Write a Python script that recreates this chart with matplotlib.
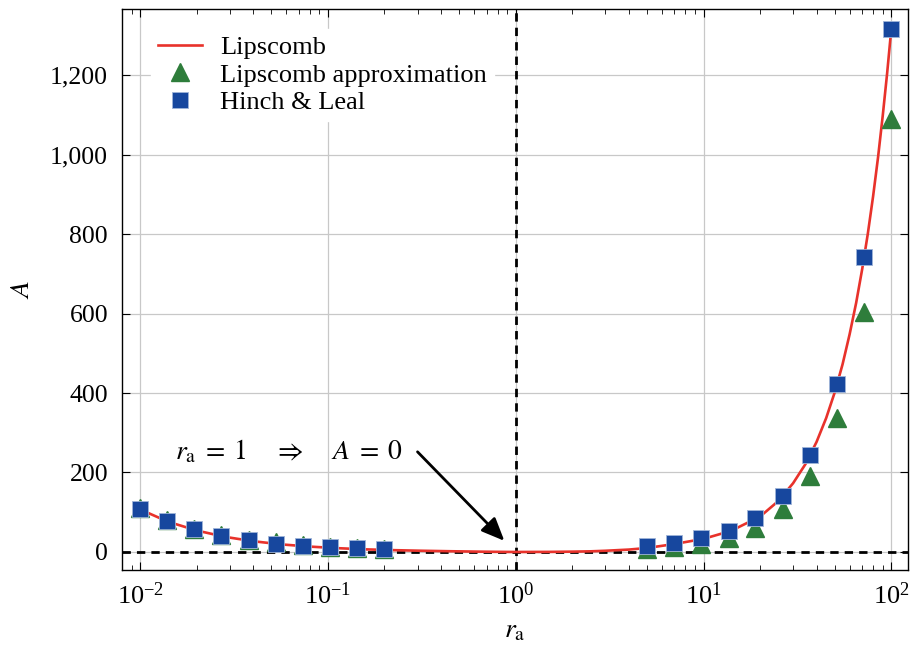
import numpy as np
import matplotlib
matplotlib.use("Agg")
import matplotlib.pyplot as plt
from matplotlib.ticker import FuncFormatter, LogLocator, NullFormatter

plt.rcParams['font.family'] = ['Liberation Serif', 'DejaVu Serif']
plt.rcParams['mathtext.fontset'] = 'stix'

# Lipscomb curve
curve_r = [0.01, 0.0141, 0.02, 0.0283, 0.04, 0.0566, 0.08, 0.113, 0.16, 0.226,
           0.32, 0.45, 0.64, 0.9, 1.0, 1.27, 1.5, 2.0, 2.5, 3.0, 4.0, 5.0, 7.0,
           10.0, 14.0, 20.0, 25.0, 30.0, 35.0, 40.0, 45.0, 50.0, 55.0, 60.0,
           65.0, 70.0, 75.0, 80.0, 85.0, 90.0, 95.0, 100.0]
curve_A = [107, 76, 54, 38, 27, 19, 13.5, 9.5, 6.5, 4.5,
           3.0, 1.8, 0.8, 0.1, 0.0, 0.1, 0.2, 0.8, 1.6, 3.0, 6.0, 10, 20,
           33, 53, 89, 128, 173, 222, 277, 337, 402, 472, 548,
           627, 712, 801, 895, 993, 1097, 1204, 1316]

# sample points
r_small = [0.01, 0.0139, 0.0194, 0.0271, 0.0378, 0.0527, 0.0734, 0.102, 0.143, 0.2]
r_large = [5.0, 6.98, 9.74, 13.6, 18.9, 26.4, 36.9, 51.4, 71.7, 100.0]

approx_small = [110, 80, 59, 42, 31, 24, 17, 13, 10, 8]
approx_large = [8, 12.5, 21, 35, 61, 107, 190, 337, 605, 1090]

hl_small = [107, 77, 57, 39, 29, 21, 15, 12, 9, 6.5]
hl_large = [15.6, 23, 35, 53, 85, 142, 244, 423, 742, 1316]

ann_text = r'$r_{\mathrm{a}}\;=\;1 \quad\; \Rightarrow \quad\; A\;=\;0$'

fig = plt.figure(figsize=(9.10, 6.52), dpi=100)
ax = fig.add_axes([0.134, 0.126, 0.864, 0.860])

ax.grid(True, which='major', color='#c8c8c8', linewidth=0.9, zorder=0)
ax.axvline(1.0, color='black', linestyle=(0, (3, 2.2)), linewidth=2.0, zorder=2)
ax.axhline(0.0, color='black', linestyle=(0, (3, 2.2)), linewidth=2.0, zorder=2)

ax.plot(curve_r, curve_A, color='#e8322b', linewidth=1.9, zorder=3, label='Lipscomb')
ax.plot(r_small + r_large, approx_small + approx_large, linestyle='none', marker='^',
        markersize=13, color='#2e7d3b', markeredgecolor='#2e7d3b', zorder=4,
        label='Lipscomb approximation')
ax.plot(r_small + r_large, hl_small + hl_large, linestyle='none', marker='s',
        markersize=11, color='#17479e', markeredgecolor='#9fb4d8', markeredgewidth=0.6,
        zorder=5, label='Hinch & Leal')

ax.set_xscale('log')
ax.set_xlim(0.0080, 123)
ax.set_ylim(-45, 1366)
ax.set_yticks([0, 200, 400, 600, 800, 1000, 1200])
ax.yaxis.set_major_formatter(FuncFormatter(lambda v, p: f'{int(v):,}'))
ax.xaxis.set_major_locator(LogLocator(base=10, numticks=10))
ax.xaxis.set_minor_locator(LogLocator(base=10, subs=np.arange(2, 10), numticks=20))
ax.xaxis.set_minor_formatter(NullFormatter())

ax.tick_params(which='both', direction='in', top=True, right=True)
ax.tick_params(axis='y', labelsize=18.5, pad=10)
ax.tick_params(axis='x', labelsize=19, pad=9)
ax.tick_params(which='major', length=6, width=0.8)
ax.tick_params(which='minor', length=3.5, width=0.6)
for s in ax.spines.values():
    s.set_linewidth(1.0)

ax.set_xlabel(r'$r_{\mathrm{a}}$', fontsize=20, labelpad=7)
ax.set_ylabel(r'$A$', fontsize=20, labelpad=11)

ax.annotate('', xy=(0.87, 28), xytext=(0.30, 252),
            arrowprops=dict(arrowstyle='-|>,head_length=0.7,head_width=0.3',
                            color='black', lw=2.0,
                            mutation_scale=20, shrinkA=0, shrinkB=0), zorder=6)
ax.text(0.0153, 252, ann_text, fontsize=20, ha='left', va='center', zorder=6)

leg = ax.legend(loc='upper left', bbox_to_anchor=(0.037, 0.965), frameon=True,
                fontsize=19, handlelength=1.7, handletextpad=0.68,
                labelspacing=0.16, borderpad=0.25, borderaxespad=0.0)
leg.get_frame().set_edgecolor('white')
leg.get_frame().set_facecolor('white')
leg.get_frame().set_alpha(1.0)
leg.get_frame().set_boxstyle('square', pad=0.0)

fig.savefig('out.png', dpi=100)
